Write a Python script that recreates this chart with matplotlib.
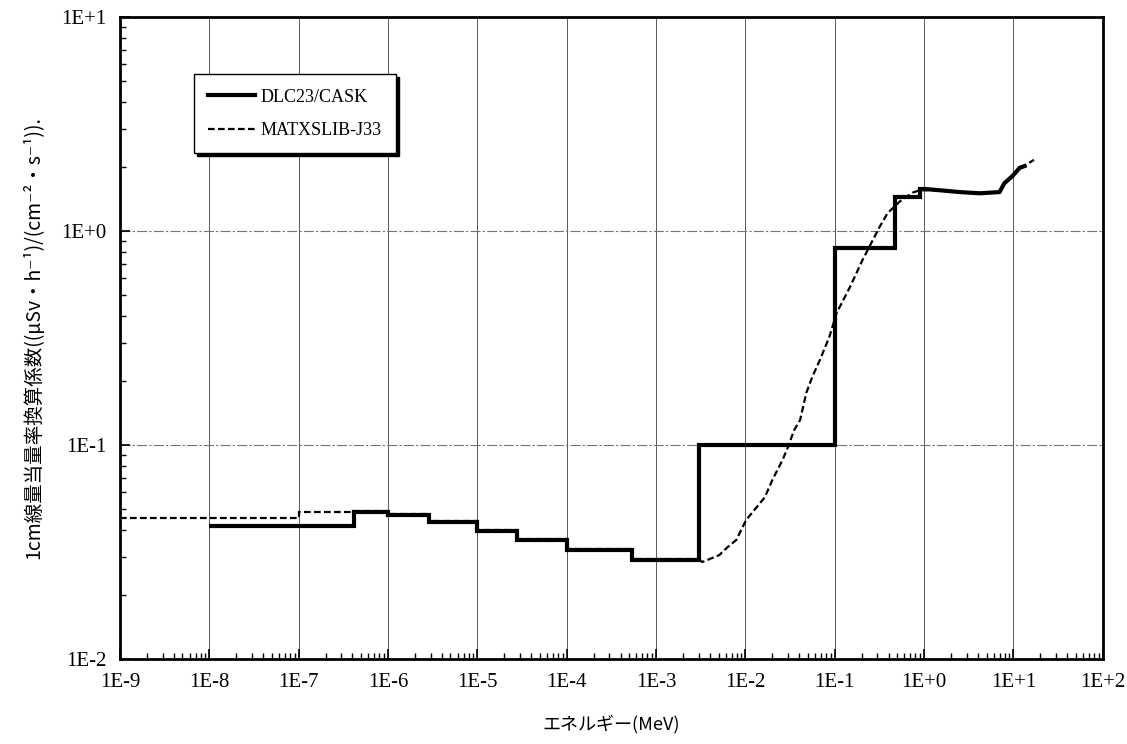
import numpy as np
import matplotlib
matplotlib.use('Agg')
import matplotlib.pyplot as plt
from matplotlib.ticker import LogLocator, FixedLocator, NullFormatter

# DLC23/CASK: group structure (bin edges in MeV) and group values
dlc_edges = [1e-8, 4.14e-7, 1.0e-6, 2.9e-6, 1.0e-5, 2.8e-5, 1.0e-4, 5.4e-4,
             3.0e-3, 1.0e-1, 0.47, 0.9, 1.05]
dlc_values = [0.0419, 0.0487, 0.0471, 0.0436, 0.0396, 0.0360, 0.0324, 0.0290,
              0.100, 0.834, 1.44, 1.57]
# fine-group tail above 1 MeV
dlc_tail_e = [1.05, 1.5, 2.5, 4.2, 7.0, 7.9, 9.8, 11.7, 13.3]
dlc_tail_v = [1.57, 1.55, 1.52, 1.50, 1.52, 1.67, 1.81, 1.97, 2.01]

# MATXSLIB-J33: stepped low-energy part
j33_edges = [1e-9, 1e-7, 4.14e-7, 1.0e-6, 2.9e-6, 1.0e-5, 2.8e-5, 1.0e-4,
             5.4e-4, 3.0e-3]
j33_values = [0.0456, 0.0488, 0.0490, 0.0474, 0.0440, 0.0399, 0.0363, 0.0327,
              0.0292]
# continuous part above 3 keV
j33_curve_e = [3.0e-3, 3.3e-3, 5.1e-3, 6.3e-3, 7.9e-3, 1.02e-2, 1.26e-2, 1.65e-2,
               2.0e-2, 2.6e-2, 3.0e-2, 3.5e-2, 4.1e-2, 4.8e-2, 5.6e-2, 6.8e-2,
               8.7e-2, 0.105, 0.148, 0.204, 0.257, 0.316, 0.389, 0.531, 0.741,
               0.891, 1.5, 2.5, 4.2, 7.0, 7.9, 9.8, 11.7, 13.3, 17.0]
j33_curve_v = [0.0292, 0.0284, 0.0306, 0.0333, 0.0360, 0.0447, 0.0497, 0.057,
               0.0686, 0.085, 0.098, 0.117, 0.131, 0.175, 0.208, 0.249,
               0.32, 0.414, 0.547, 0.73, 0.88, 1.04, 1.21, 1.37, 1.51,
               1.55, 1.55, 1.52, 1.50, 1.52, 1.65, 1.80, 1.95, 2.02, 2.15]

x_ticks = [10.0 ** k for k in range(-9, 3)]
x_labels = ['1E-9', '1E-8', '1E-7', '1E-6', '1E-5', '1E-4', '1E-3', '1E-2',
            '1E-1', '1E+0', '1E+1', '1E+2']
y_ticks = [1e-2, 1e-1, 1e0, 1e1]
y_labels = ['1E-2', '1E-1', '1E+0', '1E+1']

plt.rcParams['font.family'] = ['Liberation Serif', 'DejaVu Serif']
jp_font = ['Noto Sans CJK JP', 'DejaVu Sans']

fig = plt.figure(figsize=(11.27, 7.44), dpi=100)
ax = fig.add_axes([0.1065, 0.1142, 0.872, 0.863])

ax.set_xscale('log')
ax.set_yscale('log')
ax.set_xlim(1e-9, 1e2)
ax.set_ylim(1e-2, 1e1)

# grid
for xv in x_ticks[1:-1]:
    ax.axvline(xv, color='0.35', lw=0.7, zorder=1)
for yv in y_ticks[1:-1]:
    ax.axhline(yv, color='0.45', lw=0.8, ls=(0, (9, 2, 2, 2)), zorder=1)

# DLC23/CASK
ax.stairs(dlc_values, dlc_edges, baseline=None, color='black', lw=3.0,
          zorder=3, label='DLC23/CASK')
ax.plot(dlc_tail_e, dlc_tail_v, color='black', lw=3.0, zorder=3)

# MATXSLIB-J33
ax.stairs(j33_values, j33_edges, baseline=None, color='black', lw=1.6,
          ls=(0, (3, 1.5)), zorder=4, label='MATXSLIB-J33')
ax.plot(j33_curve_e, j33_curve_v, color='black', lw=1.6, ls=(0, (3, 1.5)),
        zorder=4)

ax.xaxis.set_major_locator(FixedLocator(x_ticks))
ax.set_xticklabels(x_labels)
ax.yaxis.set_major_locator(FixedLocator(y_ticks))
ax.set_yticklabels(y_labels)
ax.xaxis.set_minor_locator(LogLocator(base=10, subs=np.arange(2, 10), numticks=30))
ax.yaxis.set_minor_locator(LogLocator(base=10, subs=np.arange(2, 10), numticks=30))
ax.xaxis.set_minor_formatter(NullFormatter())
ax.yaxis.set_minor_formatter(NullFormatter())
ax.tick_params(which='major', direction='in', length=7, width=1.2,
               labelsize=15, pad=10)
ax.tick_params(which='minor', direction='in', length=4, width=1.0)

for s in ax.spines.values():
    s.set_linewidth(2.0)

ax.set_xlabel('エネルギー(MeV)', family=jp_font, fontsize=13, labelpad=16)
ax.set_ylabel('1cm線量当量率換算係数((μSv・h⁻¹)/(cm⁻²・s⁻¹)).',
              family=jp_font, fontsize=14, labelpad=12)

leg = ax.legend(loc='upper left', bbox_to_anchor=(0.066, 0.925), fontsize=13,
                frameon=True, fancybox=False, shadow={'color': 'black', 'alpha': 1},
                edgecolor='black', handlelength=2.6, borderpad=0.8,
                labelspacing=0.9, handletextpad=0.3)
leg.get_frame().set_linewidth(1.0)

fig.savefig('out.png', dpi=100)
